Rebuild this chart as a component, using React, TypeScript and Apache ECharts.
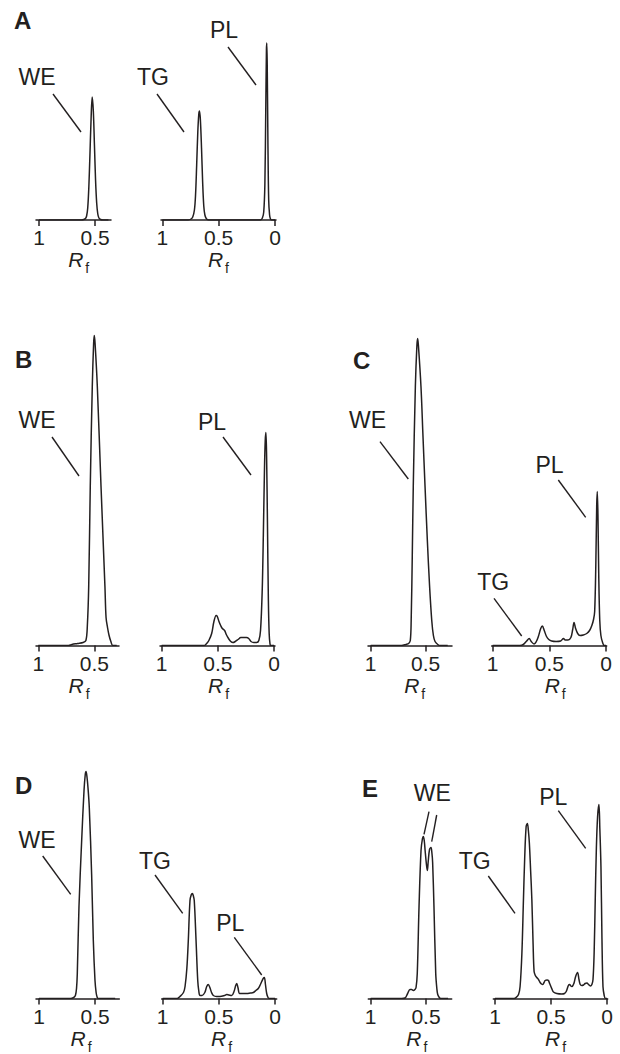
import React, { useEffect, useRef } from "react";
import * as echarts from "echarts";

// ---------- DATA: densitometry traces, [Rf, intensity (a.u.)] ----------
const aWE: [number, number][] = [[1.0,0],[0.62,0],[0.6,0.5],[0.585,1.5],[0.575,4],[0.565,12],[0.555,33],[0.545,66],[0.535,101],[0.525,123],[0.515,109],[0.505,75],[0.495,40],[0.485,17],[0.475,6],[0.465,2],[0.45,0.5],[0.43,0],[0.38,0]];
const aTGPL: [number, number][] = [[1.0,0],[0.77,0],[0.745,1],[0.73,3],[0.715,10],[0.705,25],[0.695,55],[0.685,88],[0.676,106],[0.67,109],[0.662,100],[0.652,72],[0.642,38],[0.632,14],[0.622,5],[0.61,1.5],[0.59,0],[0.13,0],[0.112,2],[0.1,8],[0.09,35],[0.082,110],[0.076,170],[0.073,177],[0.069,155],[0.063,80],[0.056,20],[0.048,5],[0.04,1],[0.03,0],[0.0,0]];
const bWE: [number, number][] = [[1.0,0],[0.73,0],[0.7,1],[0.65,2],[0.6,3],[0.575,5],[0.562,20],[0.55,59],[0.536,159],[0.518,259],[0.506,302],[0.5,310],[0.493,302],[0.473,259],[0.44,159],[0.405,59],[0.395,28],[0.382,18],[0.368,10],[0.352,4],[0.335,0],[0.3,0]];
const bPL: [number, number][] = [[1.0,0],[0.62,0],[0.6,2],[0.58,5],[0.555,12],[0.535,24],[0.515,30],[0.505,29],[0.49,24],[0.475,20],[0.46,17],[0.44,15],[0.425,11],[0.405,7],[0.385,4],[0.365,3],[0.345,4],[0.32,6],[0.295,8],[0.27,8],[0.245,8],[0.225,7],[0.205,4],[0.18,3],[0.155,3],[0.135,5],[0.12,15],[0.105,55],[0.095,110],[0.085,175],[0.078,205],[0.072,213],[0.066,190],[0.058,120],[0.05,45],[0.043,12],[0.036,2],[0.03,0],[0.0,0]];
const cWE: [number, number][] = [[1.0,0],[0.72,0],[0.68,1],[0.655,2],[0.64,5],[0.632,25],[0.622,90],[0.613,159],[0.594,259],[0.58,300],[0.573,307],[0.565,298],[0.543,259],[0.525,210],[0.506,159],[0.485,105],[0.465,60],[0.445,25],[0.43,10],[0.415,4],[0.39,1],[0.37,0],[0.3,0]];
const cTGPL: [number, number][] = [[1.0,0],[0.76,0],[0.73,1],[0.7,4.5],[0.678,7],[0.66,4],[0.635,1.5],[0.615,4],[0.597,9],[0.576,17],[0.562,19.5],[0.545,15],[0.525,9],[0.505,6],[0.48,4.5],[0.44,4],[0.4,4.5],[0.375,7],[0.36,5.5],[0.335,5.5],[0.31,8],[0.294,16],[0.282,23],[0.268,17],[0.25,12],[0.23,10],[0.2,10.5],[0.17,12],[0.145,15],[0.125,20],[0.11,26],[0.1,34],[0.09,80],[0.082,140],[0.077,154],[0.071,130],[0.064,70],[0.055,25],[0.045,10],[0.03,3],[0.015,0],[0.0,0]];
const dWE: [number, number][] = [[1.0,0],[0.72,0],[0.69,1],[0.675,3],[0.665,10],[0.658,25],[0.643,92],[0.619,158],[0.598,208],[0.587,224],[0.58,227],[0.572,222],[0.562,210],[0.551,191],[0.53,124],[0.515,58],[0.5,18],[0.49,6],[0.48,1],[0.47,0],[0.32,0]];
const dTGPL: [number, number][] = [[1.0,0],[0.87,0],[0.846,2],[0.815,6],[0.801,12],[0.785,30],[0.772,58],[0.757,98],[0.745,104],[0.736,105],[0.728,103],[0.719,98],[0.703,58],[0.688,18],[0.678,7],[0.668,3],[0.65,3],[0.625,6],[0.608,12],[0.594,14],[0.58,11],[0.565,6],[0.549,3],[0.52,2],[0.49,2],[0.45,3],[0.43,4],[0.41,3.5],[0.386,3],[0.365,7],[0.35,13],[0.341,15],[0.33,11],[0.315,5],[0.29,5],[0.252,5],[0.22,5.5],[0.193,6],[0.17,8],[0.149,10],[0.13,14],[0.118,17],[0.105,20],[0.095,21],[0.085,14],[0.074,5],[0.062,1],[0.05,0],[0.0,0]];
const eWE: [number, number][] = [[1.0,0],[0.72,0],[0.69,0.5],[0.666,5],[0.645,9],[0.63,9],[0.615,8],[0.6,9],[0.59,11],[0.579,25],[0.563,92],[0.545,148],[0.532,160],[0.524,162],[0.515,157],[0.508,148],[0.497,135],[0.488,128],[0.48,137],[0.468,149],[0.455,151],[0.447,146],[0.44,136],[0.428,92],[0.412,25],[0.402,10],[0.394,4],[0.38,1],[0.367,0],[0.3,0]];
const eTGPL: [number, number][] = [[1.0,0],[0.83,0],[0.812,1],[0.79,4],[0.776,12],[0.76,45],[0.746,99],[0.735,140],[0.722,172],[0.711,175],[0.702,168],[0.693,155],[0.682,128],[0.671,99],[0.66,55],[0.651,27],[0.64,23],[0.627,21],[0.612,19],[0.597,16],[0.585,14.5],[0.573,14],[0.562,16],[0.552,18],[0.535,18.5],[0.523,18],[0.512,15],[0.501,12],[0.49,9],[0.478,6.5],[0.448,5],[0.403,4.5],[0.38,5],[0.364,7],[0.345,13],[0.334,14],[0.323,12.5],[0.313,12],[0.3,14],[0.293,16],[0.28,22],[0.263,26],[0.25,19],[0.239,14],[0.225,13],[0.21,13.5],[0.195,15],[0.179,15.5],[0.165,14],[0.149,12.5],[0.135,14],[0.125,19],[0.115,45],[0.105,99],[0.095,150],[0.084,182],[0.072,194],[0.064,170],[0.054,132],[0.045,60],[0.036,12],[0.025,3],[0.015,0],[0.0,0]];

// tick labels
const ticksLeft = [1, 0.5];
const ticksRight = [1, 0.5, 0];

// panel letters and peak names
const panelLetters = ["A", "B", "C", "D", "E"];
const peakNames = ["WE", "TG", "PL"];

// ---------- LAYOUT (pixels) ----------
const INK = "#231f20";
const FONT = "'Liberation Sans', Arial, Helvetica, sans-serif";

type Plot = {
  data: [number, number][];
  ticks: number[];
  left: number; right: number; rf1: number; ppu: number; base: number; h: number; rfX: number;
};

const plots: Plot[] = [
  { data: aWE, ticks: ticksLeft, left: 36, right: 111, rf1: 39, ppu: 112, base: 220, h: 200, rfX: 78.7 },
  { data: aTGPL, ticks: ticksRight, left: 161, right: 276, rf1: 162.3, ppu: 112.7, base: 220, h: 200, rfX: 218.4 },
  { data: bWE, ticks: ticksLeft, left: 36, right: 119, rf1: 38.3, ppu: 112, base: 645.5, h: 320, rfX: 79 },
  { data: bPL, ticks: ticksRight, left: 160, right: 275, rf1: 161.7, ppu: 112.3, base: 645.5, h: 320, rfX: 218.5 },
  { data: cWE, ticks: ticksLeft, left: 368, right: 452, rf1: 370.7, ppu: 110, base: 645.5, h: 320, rfX: 414.7 },
  { data: cTGPL, ticks: ticksRight, left: 491.7, right: 606.7, rf1: 492.7, ppu: 113.3, base: 645.5, h: 320, rfX: 555.2 },
  { data: dWE, ticks: ticksLeft, left: 36, right: 119.3, rf1: 39, ppu: 112, base: 998.5, h: 240, rfX: 81 },
  { data: dTGPL, ticks: ticksRight, left: 161.7, right: 276.7, rf1: 162.7, ppu: 112.3, base: 998.5, h: 240, rfX: 221.5 },
  { data: eWE, ticks: ticksLeft, left: 368.3, right: 451.7, rf1: 370.7, ppu: 110.6, base: 998.5, h: 240, rfX: 416.8 },
  { data: eTGPL, ticks: ticksRight, left: 493.3, right: 607.7, rf1: 495, ppu: 112, base: 998.5, h: 240, rfX: 555.6 },
];

const letterPos: [number, number][] = [[14, 20], [15, 359], [353, 360], [15, 785], [362, 788]];

// [name index, cx, cy]
const peakLabelPos: [number, number, number][] = [
  [0, 37, 77], [1, 153, 77], [2, 224, 30],
  [0, 37, 420], [2, 212, 422],
  [0, 367.5, 420], [2, 549.5, 465], [1, 493.2, 581.7],
  [0, 37, 840], [1, 155, 860.7], [2, 230.3, 923.3],
  [0, 432.3, 793.3], [1, 474.7, 860.7], [2, 553.3, 797.3],
];

const leaders: [number, number, number, number][] = [
  [53, 94, 81, 132], [157, 94, 184, 132], [228, 47, 256, 85],
  [52, 437, 79, 476], [223, 437, 251, 475],
  [380, 441.7, 408.3, 479], [558.3, 480, 585.7, 517.3], [494, 598.3, 521.7, 636],
  [42.7, 856, 70.7, 894.3], [155, 875, 182.7, 913.3], [234.3, 937.3, 261.7, 975],
  [429, 811.7, 424, 834.3], [436.7, 815, 431.7, 841.7], [488.3, 876, 515, 913.3], [558.3, 810.7, 585.7, 848.3],
];

function buildOption(): echarts.EChartsOption {
  const lineStyle = { color: INK, width: 1.5 };
  const graphic: any[] = [];

  panelLetters.forEach((t, i) => {
    graphic.push({
      type: "text", x: letterPos[i][0], y: letterPos[i][1], silent: true,
      style: { text: t, fill: INK, fontFamily: FONT, fontSize: 24, fontWeight: "bold", align: "left", verticalAlign: "middle", textAlign: "left", textVerticalAlign: "middle" },
    });
  });

  peakLabelPos.forEach(([ni, cx, cy]) => {
    graphic.push({
      type: "text", x: cx, y: cy, silent: true,
      style: { text: peakNames[ni], fill: INK, fontFamily: FONT, fontSize: 23, align: "center", verticalAlign: "middle", textAlign: "center", textVerticalAlign: "middle" },
    });
  });

  leaders.forEach(([x1, y1, x2, y2]) => {
    graphic.push({ type: "line", silent: true, shape: { x1, y1, x2, y2 }, style: { stroke: INK, lineWidth: 1.4 } });
  });

  plots.forEach((p) => {
    graphic.push({
      type: "text", x: p.rfX, y: p.base + 46.5, silent: true,
      style: {
        text: "{r|R}{f|f}",
        align: "center", verticalAlign: "middle", textAlign: "center", textVerticalAlign: "middle",
        rich: {
          r: { fontFamily: FONT, fontSize: 21, fontStyle: "italic", fill: INK, color: INK, lineHeight: 17, verticalAlign: "bottom", padding: [0, 1, 5, 0] },
          f: { fontFamily: FONT, fontSize: 14, fill: INK, color: INK, lineHeight: 12, verticalAlign: "bottom", padding: [0, 0, 0, 1] },
        },
      },
    });
  });

  return {
    animation: false,
    backgroundColor: "#ffffff",
    textStyle: { fontFamily: FONT },
    grid: plots.map((p) => ({ left: p.left, top: p.base - p.h, width: p.right - p.left, height: p.h, containLabel: false })),
    xAxis: plots.map((p, i) => ({
      gridIndex: i,
      type: "value",
      inverse: true,
      min: 1 - (p.right - p.rf1) / p.ppu,
      max: 1 + (p.rf1 - p.left) / p.ppu,
      axisLine: { show: true, onZero: false, lineStyle },
      axisTick: { show: true, customValues: p.ticks, length: 6, inside: false, lineStyle },
      axisLabel: { show: true, customValues: p.ticks, margin: 7, fontSize: 21, lineHeight: 21, color: INK, fontFamily: FONT, formatter: (v: number) => String(v) },
      splitLine: { show: false },
    })) as any,
    yAxis: plots.map((p, i) => ({ gridIndex: i, type: "value", min: 0, max: p.h, show: false, splitLine: { show: false } })) as any,
    series: plots.map((p, i) => ({
      type: "line",
      xAxisIndex: i,
      yAxisIndex: i,
      data: p.data,
      showSymbol: false,
      symbol: "none",
      smooth: 0.35,
      clip: true,
      silent: true,
      lineStyle,
    })) as any,
    graphic,
  };
}

export default function App() {
  const ref = useRef<HTMLDivElement>(null);
  useEffect(() => {
    if (!ref.current) return;
    const chart = echarts.init(ref.current, undefined, { renderer: "svg" });
    chart.setOption(buildOption());
    return () => chart.dispose();
  }, []);
  return (
    <div
      ref={ref}
      style={{ position: "absolute", left: 0, top: 0, width: 620, height: 1054, background: "#fff" }}
    />
  );
}
